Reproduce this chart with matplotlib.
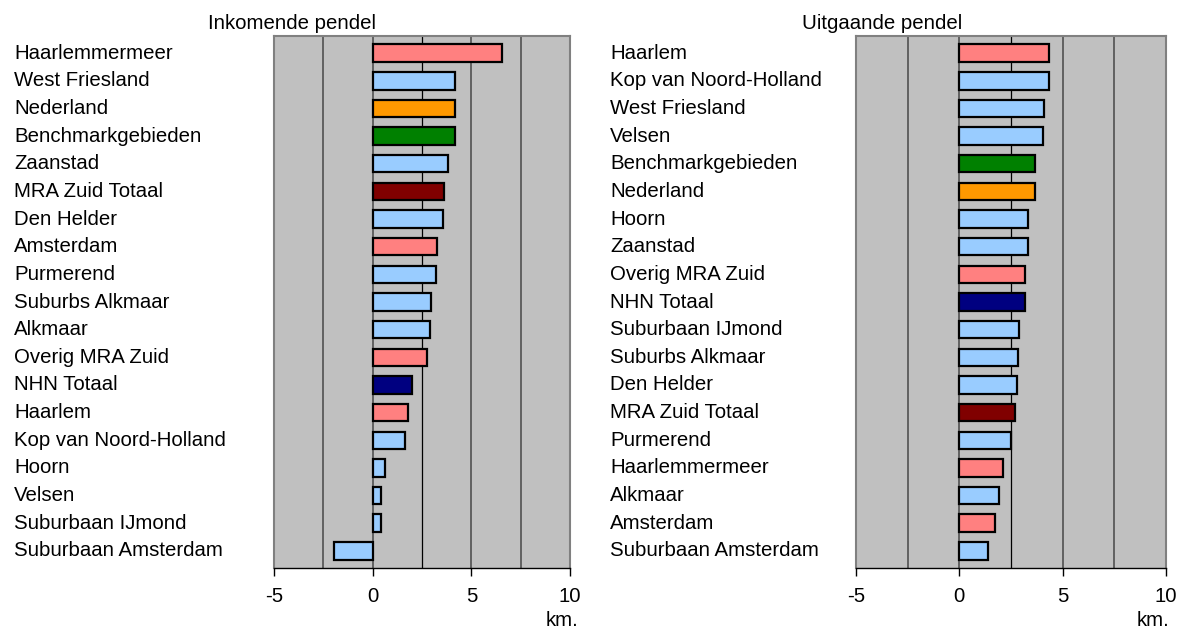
import matplotlib
matplotlib.use("Agg")
import matplotlib.pyplot as plt
import matplotlib.transforms as mtransforms

plt.rcParams['font.family'] = ['Liberation Sans', 'DejaVu Sans']

PINK = '#FF8080'
BLUE = '#99CCFF'
ORANGE = '#FF9900'
GREEN = '#008000'
DARKRED = '#800000'
NAVY = '#000080'

# Inkomende pendel
in_labels = ['Haarlemmermeer', 'West Friesland', 'Nederland', 'Benchmarkgebieden',
             'Zaanstad', 'MRA Zuid Totaal', 'Den Helder', 'Amsterdam', 'Purmerend',
             'Suburbs Alkmaar', 'Alkmaar', 'Overig MRA Zuid', 'NHN Totaal', 'Haarlem',
             'Kop van Noord-Holland', 'Hoorn', 'Velsen', 'Suburbaan IJmond',
             'Suburbaan Amsterdam']
in_values = [6.55, 4.15, 4.15, 4.15, 3.82, 3.64, 3.56, 3.24, 3.19, 2.95, 2.92,
             2.73, 2.0, 1.77, 1.62, 0.65, 0.43, 0.40, -1.97]
in_colors = [PINK, BLUE, ORANGE, GREEN, BLUE, DARKRED, BLUE, PINK, BLUE, BLUE, BLUE,
             PINK, NAVY, PINK, BLUE, BLUE, BLUE, BLUE, BLUE]

# Uitgaande pendel
out_labels = ['Haarlem', 'Kop van Noord-Holland', 'West Friesland', 'Velsen',
              'Benchmarkgebieden', 'Nederland', 'Hoorn', 'Zaanstad', 'Overig MRA Zuid',
              'NHN Totaal', 'Suburbaan IJmond', 'Suburbs Alkmaar', 'Den Helder',
              'MRA Zuid Totaal', 'Purmerend', 'Haarlemmermeer', 'Alkmaar', 'Amsterdam',
              'Suburbaan Amsterdam']
out_values = [4.36, 4.36, 4.10, 4.05, 3.65, 3.66, 3.34, 3.31, 3.18, 3.16, 2.91,
              2.84, 2.78, 2.71, 2.49, 2.13, 1.94, 1.73, 1.38]
out_colors = [PINK, BLUE, BLUE, BLUE, GREEN, ORANGE, BLUE, BLUE, PINK, NAVY, BLUE,
              BLUE, BLUE, DARKRED, BLUE, PINK, BLUE, PINK, BLUE]

xticks = [-5, 0, 5, 10]

W, H = 1183, 628
fig = plt.figure(figsize=(W / 100, H / 100), dpi=100)
fs = 14.7


def panel(rect, labels, values, colors, title, title_x, label_x, km_dx):
    ax = fig.add_axes(rect)
    ax.set_facecolor('#C0C0C0')
    n = len(labels)
    ypos = list(range(n))[::-1]
    for g in [-2.5, 0, 5, 7.5]:
        ax.axvline(g, color='#5A5A5A', lw=1.3, zorder=1)
    ax.axvline(2.5, color='#000000', lw=0.9, zorder=1)
    ax.barh(ypos, values, height=0.63, color=colors, edgecolor='black',
            linewidth=1.6, zorder=3)
    ax.set_xlim(-5, 10)
    ax.set_ylim(-0.62, n - 0.38)
    ax.set_yticks([])
    ax.set_xticks(xticks)
    ax.set_xticklabels([str(t) for t in xticks], fontsize=fs)
    ax.tick_params(axis='x', direction='out', length=6, width=1, pad=8,
                   colors='black')
    for s in ['left', 'right', 'top']:
        ax.spines[s].set_color('#808080')
        ax.spines[s].set_linewidth(1.5)
    ax.spines['bottom'].set_color('black')
    ax.spines['bottom'].set_linewidth(1.0)
    trans = mtransforms.blended_transform_factory(fig.transFigure, ax.transData)
    for y, lab in zip(ypos, labels):
        ax.text(label_x / W, y, lab, transform=trans, ha='left', va='center',
                fontsize=fs, clip_on=False)
    fig.text(title_x / W, 1 - 29 / H, title, ha='left', va='baseline', fontsize=fs)
    right_px = rect[0] * W + rect[2] * W
    fig.text((right_px + km_dx) / W, 1 - 626 / H, 'km.', ha='right',
             va='baseline', fontsize=fs)
    return ax


panel([274 / W, 1 - 568 / H, 296 / W, 532 / H], in_labels, in_values, in_colors,
      'Inkomende pendel', 208, 14, 8)
panel([856 / W, 1 - 568 / H, 310 / W, 532 / H], out_labels, out_values, out_colors,
      'Uitgaande pendel', 802, 610, 3)

fig.savefig('out.png', dpi=100)
